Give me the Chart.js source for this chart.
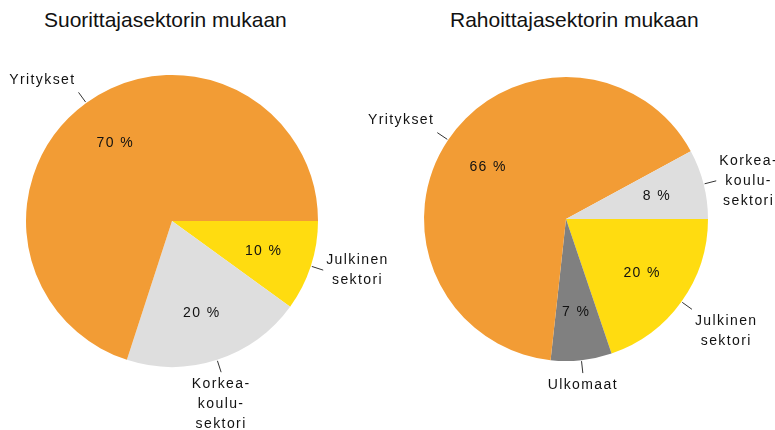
<!DOCTYPE html>
<html><head><meta charset="utf-8">
<script src="https://cdn.jsdelivr.net/npm/chart.js@4/dist/chart.umd.min.js"></script>
<style>
html,body{margin:0;padding:0;background:#fff;width:775px;height:430px;overflow:hidden}
canvas{position:absolute;left:0;top:0}
.t{position:absolute;font-family:"Liberation Sans",Arial,sans-serif;font-size:21px;color:#111;white-space:nowrap;line-height:1}
</style></head><body>
<div class="t" id="t1" style="left:44px;top:9px"></div>
<div class="t" id="t2" style="left:450px;top:9px"></div>
<canvas id="c1" width="775" height="430"></canvas>
<canvas id="c2" width="775" height="430"></canvas>
<script>
// ---- data ----
const titles = ['Suorittajasektorin mukaan', 'Rahoittajasektorin mukaan'];
const leftCategories = [['Julkinen', 'sektori'], ['Korkea-', 'koulu-', 'sektori'], ['Yritykset']];
const leftValues = [10, 20, 70];
const leftColors = ['#FFDC10', '#DEDEDE', '#F29C35'];
const rightCategories = [['Julkinen', 'sektori'], ['Ulkomaat'], ['Yritykset'], ['Korkea-', 'koulu-', 'sektori']];
const rightValues = [20, 7, 66, 8];
const rightColors = ['#FFDC10', '#808080', '#F29C35', '#DEDEDE'];

document.getElementById('t1').textContent = titles[0];
document.getElementById('t2').textContent = titles[1];

const labelFont = '14px "Liberation Sans", Arial, sans-serif';
const LINE_H = 20;

const pieLabels = {
  id: 'pieLabels',
  afterDatasetsDraw(chart) {
    const ctx = chart.ctx;
    const meta = chart.getDatasetMeta(0);
    const vals = chart.data.datasets[0].data;
    const cats = chart.data.labels;
    ctx.save();
    ctx.font = labelFont;
    ctx.letterSpacing = '1.4px';
    ctx.fillStyle = '#111';
    ctx.strokeStyle = '#333';
    ctx.lineWidth = 1;
    ctx.textAlign = 'center';
    ctx.textBaseline = 'middle';
    meta.data.forEach((arc, i) => {
      const p = arc.getProps(['x', 'y', 'startAngle', 'endAngle', 'outerRadius'], true);
      const mid = (p.startAngle + p.endAngle) / 2;
      const dx = Math.cos(mid), dy = Math.sin(mid);
      const R = p.outerRadius;
      // percent label
      const rp = R * 0.66;
      ctx.fillText(vals[i] + ' %', p.x + dx * rp, p.y + dy * rp);
      // leader
      const r0 = R + 1, r1 = R + 13;
      ctx.beginPath();
      ctx.moveTo(p.x + dx * r0, p.y + dy * r0);
      ctx.lineTo(p.x + dx * r1, p.y + dy * r1);
      ctx.stroke();
      const Px = p.x + dx * r1, Py = p.y + dy * r1;
      const lines = Array.isArray(cats[i]) ? cats[i] : [cats[i]];
      let w = 0;
      lines.forEach(l => { w = Math.max(w, ctx.measureText(l).width); });
      const h = lines.length * LINE_H;
      const fx = Math.abs(dx) < 0.4 ? 0 : Math.sign(dx);
      const gy = Math.abs(dy) < 0.45 ? 0 : Math.sign(dy);
      const cx = Px + fx * (w / 2 + 3);
      const cy = Py + gy * (h / 2 + 2);
      lines.forEach((l, k) => {
        ctx.fillText(l, cx, cy - h / 2 + LINE_H / 2 + k * LINE_H);
      });
    });
    ctx.restore();
  }
};

function makePie(id, cats, vals, colors, pad) {
  return new Chart(document.getElementById(id), {
    type: 'pie',
    data: { labels: cats, datasets: [{ data: vals, backgroundColor: colors, borderWidth: 0 }] },
    options: {
      responsive: false,
      animation: false,
      rotation: 90,
      layout: { padding: pad },
      plugins: { legend: { display: false }, tooltip: { enabled: false }, title: { display: false } },
      events: []
    },
    plugins: [pieLabels]
  });
}

makePie('c1', leftCategories, leftValues, leftColors, { left: 26, top: 75, right: 457, bottom: 63 });
makePie('c2', rightCategories, rightValues, rightColors, { left: 424, top: 77, right: 67, bottom: 69 });
</script>
</body></html>
